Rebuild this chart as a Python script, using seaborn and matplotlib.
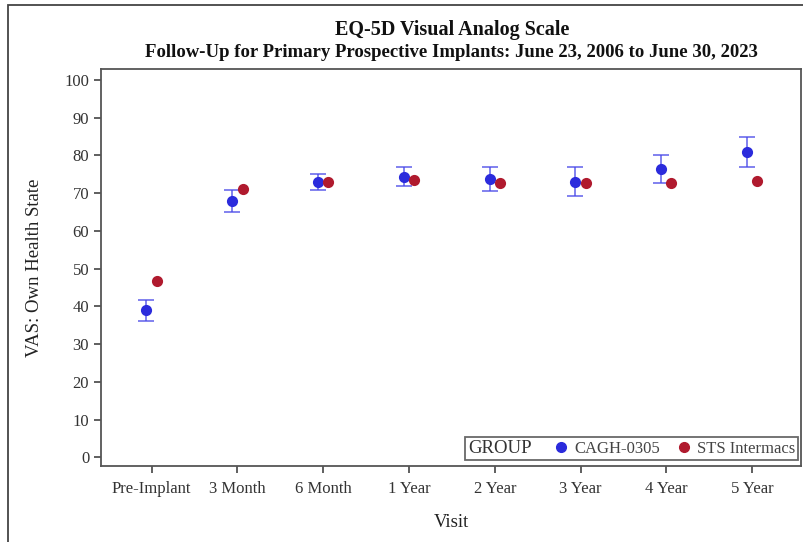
import pandas as pd
import seaborn as sns
import matplotlib.pyplot as plt
from matplotlib.patches import Rectangle
from matplotlib.offsetbox import HPacker

visits = ['Pre-Implant', '3 Month', '6 Month', '1 Year', '2 Year', '3 Year', '4 Year', '5 Year']
groups = ['CAGH-0305', 'STS Intermacs']
cagh_mean = [39.0, 68.0, 73.0, 74.4, 73.8, 73.0, 76.4, 80.9]
cagh_lower = [36.2, 65.0, 70.8, 72.0, 70.5, 69.3, 72.6, 77.0]
cagh_upper = [41.8, 70.8, 75.2, 76.8, 77.0, 76.8, 80.1, 84.8]
sts_mean = [46.6, 71.0, 72.9, 73.4, 72.8, 72.8, 72.8, 73.2]

colors = {'CAGH-0305': '#2b2bdc', 'STS Intermacs': '#b01a2e'}
dodge = 0.12

sns.set_theme(style='white')
plt.rcParams['font.family'] = ['Liberation Serif', 'DejaVu Serif']

df = pd.DataFrame({
    'Visit': visits * 2,
    'GROUP': [groups[0]] * len(visits) + [groups[1]] * len(visits),
    'VAS': cagh_mean + sts_mean,
})

fig = plt.figure(figsize=(8.04, 5.42), dpi=100)
ax = fig.add_axes([0.1256, 0.1402, 0.8707, 0.7325])

sns.pointplot(data=df, x='Visit', y='VAS', hue='GROUP', order=visits, hue_order=groups,
              palette=colors, dodge=dodge, linestyle='none', errorbar=None,
              markers='o', markersize=6, ax=ax, legend=False, zorder=3)

# error bars for CAGH-0305 (shifted like seaborn's dodge)
xpos = [i - dodge / 2 for i in range(len(visits))]
yerr = [[m - lo for m, lo in zip(cagh_mean, cagh_lower)],
        [hi - m for m, hi in zip(cagh_mean, cagh_upper)]]
ax.errorbar(xpos, cagh_mean, yerr=yerr, fmt='none', ecolor='#4a4ae8', alpha=0.75,
            elinewidth=1.3, capsize=5.5, capthick=1.3, zorder=2)

ax.set_xlim(-0.59, 7.57)
ax.set_ylim(-2.3, 102.9)
ax.set_yticks(range(0, 101, 10))
ax.set_xlabel('Visit', fontsize=13.5, color='#222222', labelpad=12)
ax.set_ylabel('VAS: Own Health State', fontsize=13.5, color='#222222', labelpad=15)
ax.tick_params(axis='both', which='both', direction='out', length=5, width=1.2,
               color='#444444', labelsize=12, labelcolor='#333333', left=True, bottom=True)
ax.tick_params(axis='x', pad=6)
for sp in ax.spines.values():
    sp.set_color('#555555')
    sp.set_linewidth(1.3)

# legend with inline title
handles = [plt.Line2D([], [], marker='o', linestyle='none', markersize=7, color=colors[g]) for g in groups]
leg = ax.legend(handles, groups, title='GROUP', ncol=2, loc='lower right',
                bbox_to_anchor=(0.996, 0.014), frameon=True, fancybox=False,
                edgecolor='#444444', fontsize=12, title_fontsize=13.5,
                handletextpad=0.2, columnspacing=0.8, handlelength=1.2,
                borderpad=0.1, borderaxespad=0.0)
leg.get_frame().set_linewidth(1.3)
leg.get_title().set_color('#333333')
for t in leg.get_texts():
    t.set_color('#444444')
box = leg._legend_box
leg._legend_box = HPacker(pad=box.pad + 1, sep=14, align='center',
                          children=[leg._legend_title_box, leg._legend_handle_box])
leg._legend_box.set_figure(fig)
leg._legend_box.axes = ax
leg._set_loc(leg._loc)

fig.text(0.562, 0.944, 'EQ-5D Visual Analog Scale', ha='center', va='center',
         fontsize=14.5, fontweight='bold', color='#111111')
fig.text(0.562, 0.903, 'Follow-Up for Primary Prospective Implants: June 23, 2006 to June 30, 2023',
         ha='center', va='center', fontsize=13.5, fontweight='bold', color='#111111')

# outer frame
fig.patches.append(Rectangle((8 / 804, -0.02), 1.0, 1.02 - 5 / 542, transform=fig.transFigure,
                             fill=False, edgecolor='#444444', linewidth=1.3))

fig.savefig('out.png', dpi=100)
